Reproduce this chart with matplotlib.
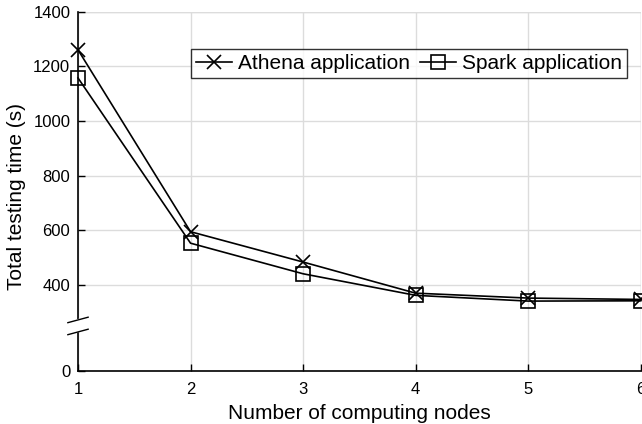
import matplotlib
matplotlib.use("Agg")
import matplotlib.pyplot as plt
from matplotlib.lines import Line2D

plt.rcParams['font.family'] = ['Liberation Sans', 'DejaVu Sans']

nodes = [1, 2, 3, 4, 5, 6]
athena = [1261, 595, 484, 370, 352, 347]
spark = [1158, 553, 441, 362, 341, 342]
ytick_vals = [400, 600, 800, 1000, 1200, 1400]
y_bottom = 85       # where the "0" label sits (axis is broken below 400)
y_break = 250

fig = plt.figure(figsize=(6.42, 4.24), dpi=100)
ax = fig.add_axes([0.1215, 0.125, 0.8765, 0.847])

ax.plot(nodes, athena, color='black', lw=1.2, marker='x', ms=10, mew=1.2,
        label='Athena application', clip_on=False, zorder=3)
ax.plot(nodes, spark, color='black', lw=1.2, marker='s', ms=10, mew=1.2,
        mfc='none', label='Spark application', clip_on=False, zorder=3)

ax.set_xlim(1, 6)
ax.set_ylim(y_bottom, 1400)
ax.set_xticks(nodes)
ax.set_yticks([y_bottom] + ytick_vals)
ax.set_yticklabels(['0'] + [str(v) for v in ytick_vals])
ax.tick_params(direction='in', length=5, width=1, labelsize=12)
ax.tick_params(axis='x', pad=8)
ax.tick_params(axis='y', pad=5.5)

ax.grid(True, color='#dcdcdc', lw=1)
ax.set_axisbelow(True)
for s in ['top', 'right']:
    ax.spines[s].set_visible(False)
for s in ['left', 'bottom']:
    ax.spines[s].set_linewidth(1.2)
# gray lines on top and right like the grid
ax.axhline(1400, color='#dcdcdc', lw=1, zorder=0)
ax.axvline(6, color='#dcdcdc', lw=1, zorder=0)

ax.set_xlabel('Number of computing nodes', fontsize=15, labelpad=5)
ax.set_ylabel('Total testing time (s)', fontsize=15)
ax.yaxis.set_label_coords(-0.092, 0.485)

# axis break marks on the left spine
trans = ax.get_yaxis_transform()
ax.fill([-0.018, 0.018, 0.018, -0.018], [y_break - 28, y_break - 14, y_break + 30, y_break + 16],
        color='white', transform=trans, clip_on=False, zorder=5)
for dy in (-22, 22):
    ax.add_line(Line2D([-0.018, 0.018], [y_break + dy - 10, y_break + dy + 10],
                       transform=trans, color='black', lw=1, clip_on=False, zorder=6))

leg = ax.legend(loc='upper right', bbox_to_anchor=(0.9757, 0.897), ncol=2, fontsize=15,
                frameon=True, fancybox=False, edgecolor='black', handlelength=1.7,
                handletextpad=0.3, columnspacing=0.5, borderpad=0.25, borderaxespad=0)
leg.get_frame().set_linewidth(1)

fig.savefig('out.png', dpi=100)
